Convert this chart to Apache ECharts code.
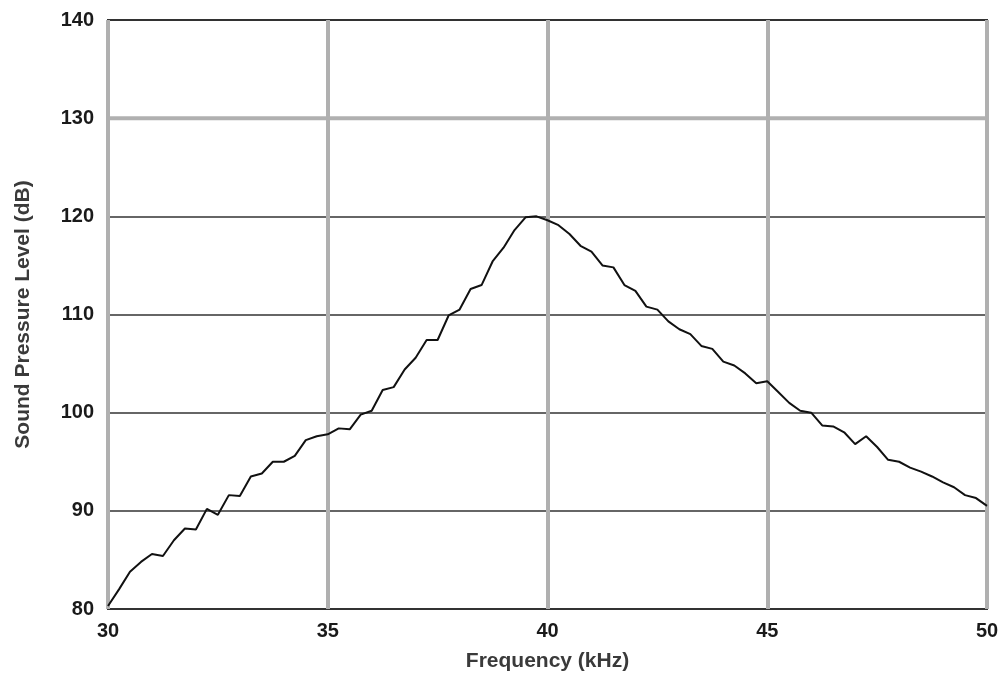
<!DOCTYPE html>
<html><head><meta charset="utf-8">
<script src="https://cdn.jsdelivr.net/npm/echarts@6/dist/echarts.min.js"></script>
<style>html,body{margin:0;padding:0;background:#fff}#c{width:1007px;height:696px}</style>
</head><body><div id="c"></div>
<script>
const freq = [30,30.25,30.5,30.75,31,31.25,31.5,31.75,32,32.25,32.5,32.75,33,33.25,33.5,33.75,34,34.25,34.5,34.75,35,35.25,35.5,35.75,36,36.25,36.5,36.75,37,37.25,37.5,37.75,38,38.25,38.5,38.75,39,39.25,39.5,39.75,40,40.25,40.5,40.75,41,41.25,41.5,41.75,42,42.25,42.5,42.75,43,43.25,43.5,43.75,44,44.25,44.5,44.75,45,45.25,45.5,45.75,46,46.25,46.5,46.75,47,47.25,47.5,47.75,48,48.25,48.5,48.75,49,49.25,49.5,49.75,50];
const spl = [80.3,82,83.8,84.8,85.6,85.4,87,88.2,88.1,90.2,89.6,91.6,91.5,93.5,93.8,95,95,95.6,97.2,97.6,97.8,98.4,98.3,99.8,100.2,102.3,102.6,104.4,105.6,107.4,107.4,109.9,110.5,112.6,113,115.4,116.8,118.6,119.9,120,119.6,119.1,118.2,117,116.4,115,114.8,113,112.4,110.8,110.5,109.3,108.5,108,106.8,106.5,105.2,104.8,104,103,103.2,102.1,101,100.2,100,98.7,98.6,98,96.8,97.6,96.5,95.2,95,94.4,94,93.5,92.9,92.4,91.6,91.3,90.5];
const xTicks = [30,35,40,45,50];
const yTicks = [80,90,100,110,120,130,140];
const chart = echarts.init(document.getElementById('c'));
chart.setOption({
  animation:false,
  grid:{left:108,right:20,top:20,bottom:87,show:true,borderColor:'#333',borderWidth:2,backgroundColor:'transparent'},
  xAxis:{type:'value',min:30,max:50,interval:5,name:'Frequency (kHz)',nameLocation:'middle',nameGap:42,
    nameTextStyle:{fontFamily:'Liberation Sans',fontWeight:'bold',fontSize:21,color:'#3a3a3a'},
    axisLine:{show:false},axisTick:{show:false},
    axisLabel:{fontFamily:'Liberation Sans',fontWeight:'bold',fontSize:20,color:'#1a1a1a',margin:12},
    splitLine:{show:true,lineStyle:{color:'#b0b0b0',width:4}}},
  yAxis:{type:'value',min:80,max:140,interval:10,name:'Sound Pressure Level (dB)',nameLocation:'middle',nameGap:74,
    nameTextStyle:{fontFamily:'Liberation Sans',fontWeight:'bold',fontSize:21,color:'#3a3a3a'},
    axisLine:{show:false},axisTick:{show:false},
    axisLabel:{fontFamily:'Liberation Sans',fontWeight:'bold',fontSize:20,color:'#1a1a1a',margin:14},
    splitLine:{show:true,lineStyle:{color:'#333',width:1.5}}},
  series:[
    {type:'line',data:[[30,130],[50,130]],symbol:'none',silent:true,lineStyle:{color:'#b0b0b0',width:4},z:1},
    {type:'line',data:freq.map((f,i)=>[f,spl[i]]),symbol:'none',lineStyle:{color:'#111',width:2},z:3}
  ]
});
</script></body></html>
